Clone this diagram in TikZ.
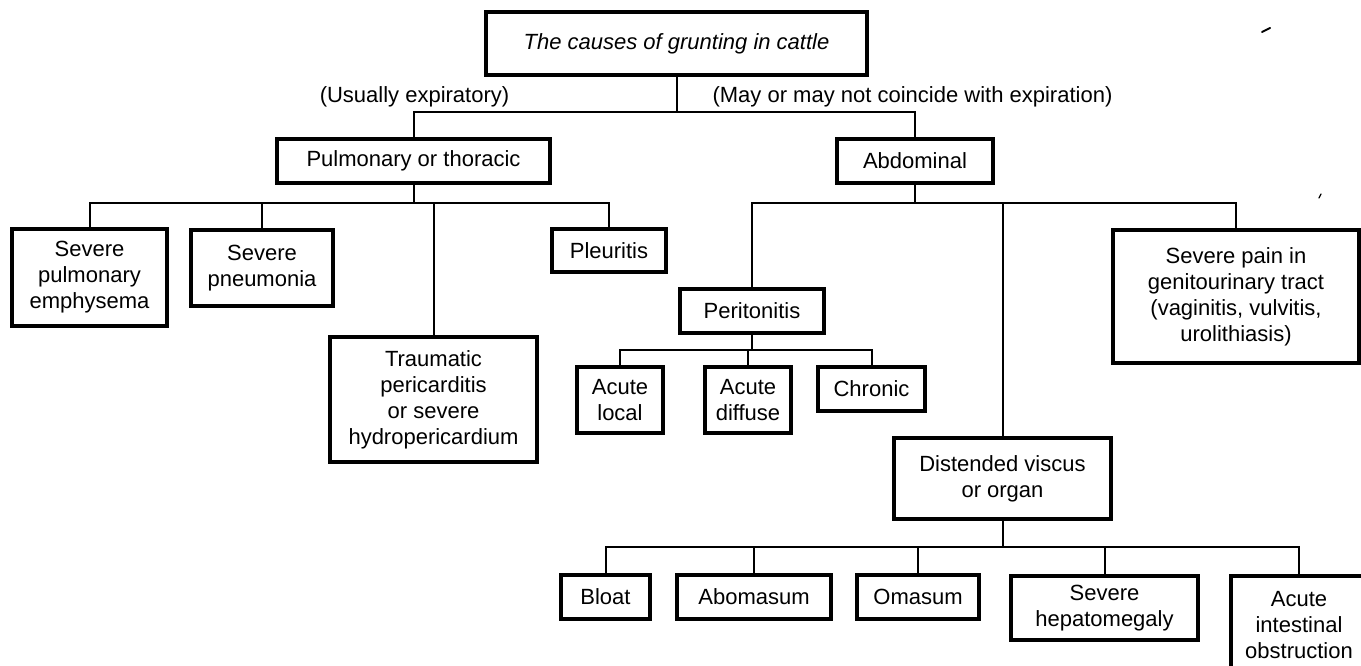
\documentclass[tikz,border=0pt]{standalone}
\usepackage{fontspec}
\setmainfont{Liberation Sans}
\newcommand\bxnode[6]{\node[box, minimum width={(#4-#2)*1pt}, minimum height={(#5-#3)*1pt}] (#1) at ({(#2+#4)/2},{(#3+#5)/2}) {#6};}
\begin{document}
\begin{tikzpicture}[x=1pt,y=-1pt,
  box/.style={draw, line width=3.2pt, align=center, inner sep=0pt, font=\fontsize{22}{26}\selectfont},
  conn/.style={line width=2pt},
  lbl/.style={font=\fontsize{22}{26}\selectfont, inner sep=0pt},
  speck/.style={line width=2pt, line cap=round}]
\useasboundingbox (0,0) rectangle (1361,666);
\clip (0,0) rectangle (1361,666);

% boxes
\bxnode{top}{486}{12}{867}{75}{\itshape The causes of grunting in cattle}
\bxnode{pulm}{277}{139}{550}{183}{Pulmonary or thoracic}
\bxnode{abd}{837}{139}{993}{183}{Abdominal}
\bxnode{emph}{12}{229}{167}{326}{Severe\\pulmonary\\emphysema}
\bxnode{pneu}{191}{230}{333}{306}{Severe\\pneumonia}
\bxnode{trau}{330}{337}{537}{462}{Traumatic\\pericarditis\\or severe\\hydropericardium}
\bxnode{pleu}{552}{229}{666}{272}{Pleuritis}
\bxnode{peri}{680}{289}{824}{333}{Peritonitis}
\bxnode{aloc}{577}{367}{663}{433}{Acute\\local}
\bxnode{adif}{705}{367}{791}{433}{Acute\\diffuse}
\bxnode{chro}{818}{367}{925}{411}{Chronic}
\bxnode{pain}{1113}{230}{1359}{363}{Severe pain in\\genitourinary tract\\(vaginitis, vulvitis,\\urolithiasis)}
\bxnode{dist}{894}{438}{1111}{519}{Distended viscus\\or organ}
\bxnode{bloat}{561}{575}{650}{619}{Bloat}
\bxnode{abom}{677}{575}{831}{619}{Abomasum}
\bxnode{omas}{857}{575}{979}{619}{Omasum}
\bxnode{hepa}{1011}{576}{1198}{640}{Severe\\hepatomegaly}
\bxnode{aint}{1231}{576}{1367}{674}{Acute\\intestinal\\obstruction}

% labels
\node[lbl] (l1) at (414.5,97) {(Usually expiratory)};
\node[lbl] (l2) at (912.5,97) {(May or may not coincide with expiration)};

% level bars
\coordinate (b0) at (0,112);
\coordinate (b1) at (0,203);
\coordinate (b2) at (0,350);
\coordinate (b3) at (0,547);

% connectors
\draw[conn] (top.south) -- (top.south |- b0);
\draw[conn] (pulm.north) |- (abd.north |- b0) -- (abd.north);

\draw[conn] (pulm.south) -- (pulm.south |- b1);
\draw[conn] (emph.north) |- (pleu.north |- b1) -- (pleu.north);
\draw[conn] (pneu.north) -- (pneu.north |- b1);
\draw[conn] (trau.north) -- (trau.north |- b1);

\draw[conn] (abd.south) -- (abd.south |- b1);
\draw[conn] (peri.north) |- (pain.north |- b1) -- (pain.north);
\draw[conn] (dist.north) -- (dist.north |- b1);

\draw[conn] (peri.south) -- (peri.south |- b2);
\draw[conn] (aloc.north) |- (chro.north |- b2) -- (chro.north);
\draw[conn] (adif.north) -- (adif.north |- b2);

\draw[conn] (dist.south) -- (dist.south |- b3);
\draw[conn] (bloat.north) |- (aint.north |- b3) -- (aint.north);
\draw[conn] (abom.north) -- (abom.north |- b3);
\draw[conn] (omas.north) -- (omas.north |- b3);
\draw[conn] (hepa.north) -- (hepa.north |- b3);

% scan specks
\draw[speck] (1262,32) -- (1270,28);
\draw[line width=1.2pt, line cap=round] (1319,198) -- (1321,194);
\end{tikzpicture}
\end{document}
